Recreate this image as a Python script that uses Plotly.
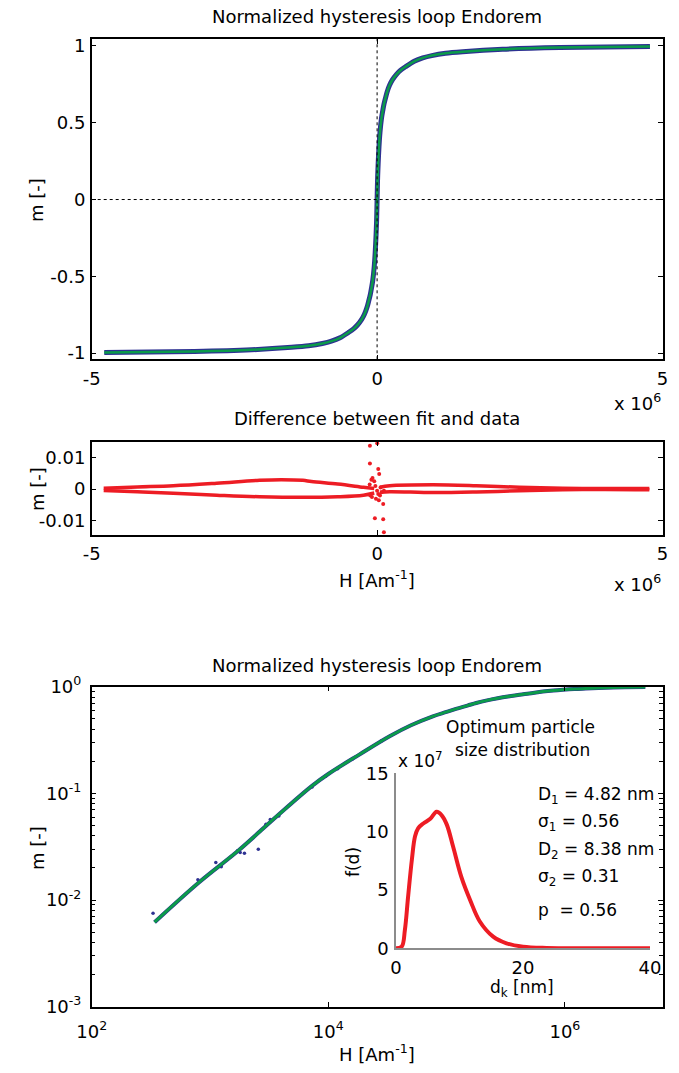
import plotly.graph_objects as go

# ---- data ----
# fitted / measured magnetisation, positive branch (H in A/m)
H_fit = [340, 810, 1730, 3690, 7240, 10000, 18300, 33000, 50000, 76500, 100000, 120000, 150000,
         178000, 220000, 270000, 340000, 413000, 500000, 650000, 800000, 959000, 1200000,
         1500000, 2200000, 3200000, 4780000]
m_fit = [0.0062, 0.0147, 0.0290, 0.0614, 0.117, 0.152, 0.231, 0.343, 0.435, 0.528, 0.580, 0.620, 0.665,
         0.703, 0.745, 0.780, 0.815, 0.842, 0.865, 0.900, 0.922, 0.937, 0.952,
         0.962, 0.978, 0.989, 0.996]

# scattered low field data points (log plot)
H_data = [330, 790, 1120, 1245, 1710, 1800, 1955, 2560, 2970, 3230, 3820, 7300, 9500, 12000, 16000, 28000]
m_data = [0.0075, 0.0155, 0.0225, 0.0205, 0.0289, 0.0279, 0.0275, 0.030, 0.0513, 0.057, 0.0614,
          0.115, 0.145, 0.170, 0.210, 0.310]

# difference fit - data (H in 1e6 A/m)
dl_up_H = [-4.79, -4.2, -3.57, -2.81, -2.06, -1.68, -1.30, -1.15, -0.69, -0.24, -0.05]
dl_up_m = [0.0003, 0.0007, 0.0011, 0.0019, 0.0028, 0.0030, 0.0028, 0.0024, 0.0016, 0.0006, 0.0002]
dl_lo_H = [-4.79, -4.2, -3.57, -2.81, -2.06, -1.30, -0.69, -0.24, -0.05]
dl_lo_m = [-0.0004, -0.0008, -0.0013, -0.0019, -0.0024, -0.0026, -0.0024, -0.0019, -0.0012]
dr_up_H = [0.05, 0.22, 0.98, 1.74, 2.49, 3.25, 4.0, 4.77]
dr_up_m = [0.0006, 0.0011, 0.0014, 0.0011, 0.0006, 0.0003, 0.0002, 0.0002]
dr_lo_H = [0.05, 0.22, 0.98, 1.74, 2.49, 3.25, 4.0, 4.77]
dr_lo_m = [-0.0010, -0.0008, -0.0011, -0.0009, -0.0005, -0.0002, -0.0001, -0.0002]
d_pts_H = [-0.13, -0.10, -0.08, -0.05, -0.03, 0.0, 0.02, 0.05, 0.08, 0.12, -0.12, -0.09, -0.02,
           0.03, 0.06, -0.126, 0.002, -0.126, 0.02, 0.037, -0.039, 0.107, 0.107, 0.119]
d_pts_m = [0.0015, 0.0030, 0.0035, 0.0025, 0.0010, -0.0005, -0.0015, -0.0020, -0.0010, -0.0005,
           -0.0020, -0.0025, -0.0030, -0.0035, 0.0005, 0.0137, 0.0145, 0.0081, 0.0064, 0.0048,
           -0.0092, -0.0095, -0.0047, -0.0136]

# optimum particle size distribution
d_nm = [0, 0.9, 1.4, 1.9, 2.5, 3.0, 3.5, 4.3, 5.4, 6.4, 7.2, 8.0, 9.0, 10.3, 11.7, 13.2, 15.3, 17.4, 20, 23.7, 30, 40]
f_d = [0, 0.14, 1.57, 4.4, 7.6, 9.6, 10.3, 10.7, 11.1, 11.7, 11.4, 10.6, 8.7, 6.1, 4.1, 2.3, 1.0, 0.43, 0.14, 0.03, 0.0, 0.0]

params = ["D<sub>1</sub> = 4.82 nm", "σ<sub>1</sub> = 0.56", "D<sub>2</sub> = 8.38 nm",
          "σ<sub>2</sub> = 0.31", "p  = 0.56"]

BLUE = "#2e3192"
GREEN = "#0b9b4a"
RED = "#ed1c24"
FONT = "DejaVu Sans"
W, H = 679, 1073


def px(x):
    return x / W


def py(y):
    return 1 - y / H


# full loop for the linear plot (mirror of the positive branch)
H_loop = [-h for h in reversed(H_fit)] + [0] + H_fit
m_loop = [-m for m in reversed(m_fit)] + [0] + m_fit

fig = go.Figure()

# top: normalized loop
fig.add_trace(go.Scatter(x=H_loop, y=m_loop, mode="lines", line=dict(color=BLUE, width=5, shape="spline", smoothing=0.8),
                         xaxis="x", yaxis="y"))
fig.add_trace(go.Scatter(x=H_loop, y=m_loop, mode="lines", line=dict(color=GREEN, width=2.5, shape="spline", smoothing=0.8),
                         xaxis="x", yaxis="y"))

# middle: difference
for hx, my in [(dl_up_H, dl_up_m), (dl_lo_H, dl_lo_m), (dr_up_H, dr_up_m), (dr_lo_H, dr_lo_m)]:
    fig.add_trace(go.Scatter(x=[h * 1e6 for h in hx], y=my, mode="lines", line_shape="spline",
                             line=dict(color=RED, width=3.5), xaxis="x2", yaxis="y2"))
fig.add_trace(go.Scatter(x=[h * 1e6 for h in d_pts_H], y=d_pts_m, mode="markers",
                         marker=dict(color=RED, size=4), xaxis="x2", yaxis="y2"))

# bottom: log-log
fig.add_trace(go.Scatter(x=H_fit, y=m_fit, mode="lines", line_shape="spline",
                         line=dict(color=BLUE, width=4), xaxis="x3", yaxis="y3"))
fig.add_trace(go.Scatter(x=H_data, y=m_data, mode="markers",
                         marker=dict(color=BLUE, size=3.5), xaxis="x3", yaxis="y3"))
fig.add_trace(go.Scatter(x=H_fit, y=m_fit, mode="lines", line_shape="spline",
                         line=dict(color=GREEN, width=3), xaxis="x3", yaxis="y3"))

# inset: size distribution
fig.add_trace(go.Scatter(x=d_nm, y=f_d, mode="lines", line_shape="spline",
                         line=dict(color=RED, width=4), xaxis="x4", yaxis="y4"))

tickfont = dict(family=FONT, size=18, color="black")
box = dict(showline=True, linecolor="black", linewidth=1.5, mirror="ticks", ticks="inside",
           ticklen=5, tickcolor="black", showgrid=False, zeroline=False, tickfont=tickfont,
           automargin=False)

# minor tick positions for the log m axis (2..9 in every decade)
minor_m = [k * 10.0 ** e for e in range(-3, 0) for k in range(2, 10)]

fig.update_layout(
    width=W, height=H, margin=dict(l=0, r=0, t=0, b=0, autoexpand=False), showlegend=False,
    paper_bgcolor="white", plot_bgcolor="rgba(0,0,0,0)",
    font=dict(family=FONT, size=18, color="black"),
    xaxis=dict(domain=[px(91.7), px(662.5)], range=[-5e6, 5e6], anchor="y",
               tickvals=[-5e6, 0, 5e6], ticktext=["-5", "0", "5"], ticklabelstandoff=2, **box),
    yaxis=dict(domain=[py(359.3), py(39)], range=[-1.04, 1.045], anchor="x",
               tickvals=[-1, -0.5, 0, 0.5, 1], ticktext=["-1", "-0.5", "0", "0.5", "1"],
               ticklabelstandoff=1, **box),
    xaxis2=dict(domain=[px(91.7), px(662.5)], range=[-5e6, 5e6], anchor="y2",
                tickvals=[-5e6, 0, 5e6], ticktext=["-5", "0", "5"], ticklabelstandoff=2, **box),
    yaxis2=dict(domain=[py(535), py(441.7)], range=[-0.0145, 0.015], anchor="x2",
                tickvals=[-0.01, 0, 0.01], ticktext=["-0.01", "0", "0.01"],
                ticklabelstandoff=1, **box),
    xaxis3=dict(domain=[px(91.7), px(662.5)], type="log", range=[2, 6.825], anchor="y3",
                tickvals=[1e2, 1e4, 1e6],
                ticktext=["10<sup>2</sup>", "10<sup>4</sup>", "10<sup>6</sup>"],
                ticklabelstandoff=8, **box),
    yaxis3=dict(domain=[py(1006.7), py(686.7)], type="log", range=[-3, 0], anchor="x3",
                tickvals=[1e-3, 1e-2, 1e-1, 1],
                ticktext=["10<sup>-3</sup>", "10<sup>-2</sup>", "10<sup>-1</sup>", "10<sup>0</sup>"],
                minor=dict(tickmode="array", tickvals=minor_m, ticks="inside", ticklen=4,
                           tickcolor="black", showgrid=False),
                ticklabelstandoff=5, **box),
    xaxis4=dict(domain=[px(396), px(650)], range=[0, 40], anchor="y4", automargin=False,
                tickvals=[0, 20, 40], showline=True, linecolor="#8c8c8c", linewidth=1.5,
                ticks="", showgrid=False, zeroline=False, tickfont=tickfont, ticklabelstandoff=2),
    yaxis4=dict(domain=[py(948.3), py(773.3)], range=[0, 15], anchor="x4", automargin=False,
                tickvals=[0, 5, 10, 15], showline=True, linecolor="#8c8c8c", linewidth=1.5,
                ticks="", showgrid=False, zeroline=False, tickfont=tickfont, ticklabelstandoff=2),
)

# dotted zero lines in the top plot
fig.add_hline(y=0, line=dict(color="black", width=1, dash="dot"), xref="x", yref="y")
fig.add_vline(x=0, line=dict(color="black", width=1, dash="dot"), xref="x", yref="y")


def label(text, x, y, size=18, angle=0, xanchor="center"):
    fig.add_annotation(text=text, x=px(x), y=py(y), xref="paper", yref="paper",
                       xanchor=xanchor, yanchor="middle", showarrow=False, textangle=angle,
                       font=dict(family=FONT, size=size, color="black"))


label("Normalized hysteresis loop Endorem", 377, 17)
label("Difference between fit and data", 377, 418)
label("Normalized hysteresis loop Endorem", 377, 665)
label("m [-]", 37, 200, angle=-90)
label("m [-]", 37, 489, angle=-90)
label("m [-]", 37, 848, angle=-90)
label("x 10<sup>6</sup>", 663, 402, xanchor="right")
label("x 10<sup>6</sup>", 663, 583, xanchor="right")
label("H [Am<sup>-1</sup>]", 377, 579)
label("H [Am<sup>-1</sup>]", 377, 1053)

# inset texts
label("Optimum particle", 520, 727, size=17)
label("size distribution", 522, 750, size=17)
label("x 10<sup>7</sup>", 420, 760, size=17)
label("f(d)", 353, 862, size=17, angle=-90)
label("d<sub>k</sub> [nm]", 522, 988, size=17)
for i, t in enumerate(params):
    label(t, 536, [795, 822, 850, 877, 910][i], size=17, xanchor="left")

# page body has a default 8px margin; drop it so the figure sits at the window origin
fig.write_html("out.html", config={"displayModeBar": False},
               post_script="document.body.style.margin='0';")
